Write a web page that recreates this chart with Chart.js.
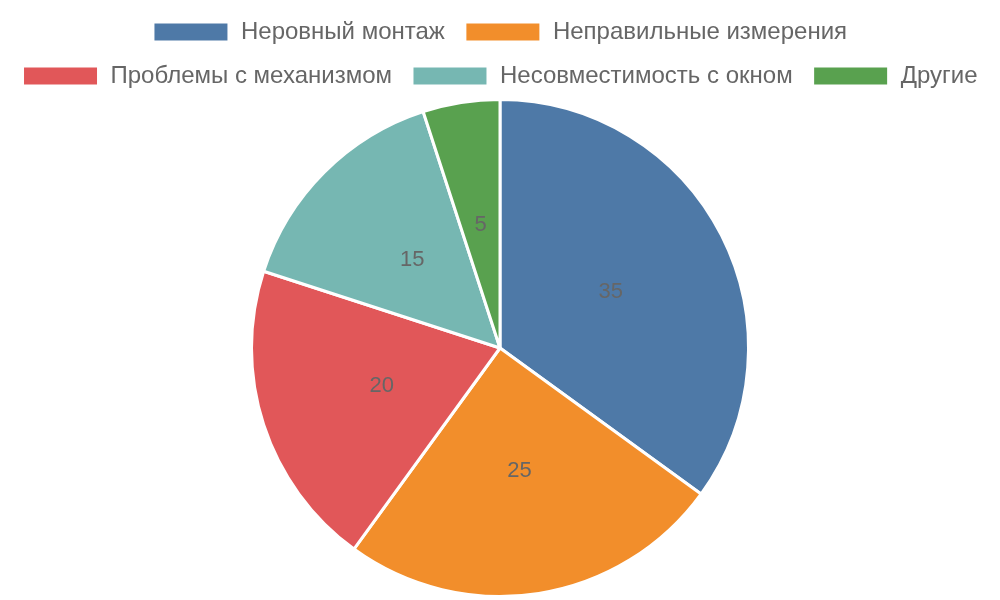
<!DOCTYPE html>
<html>
<head>
<meta charset="utf-8">
<script src="https://cdn.jsdelivr.net/npm/chart.js@4"></script>
<style>
  html, body { margin: 0; padding: 0; background: #fff; }
  #wrap { width: 1000px; height: 600px; }
</style>
</head>
<body>
<div id="wrap"><canvas id="pie"></canvas></div>
<script>
const categories = ["Неровный монтаж", "Неправильные измерения", "Проблемы с механизмом", "Несовместимость с окном", "Другие"];
const values = [35, 25, 20, 15, 5];
const colors = ["#4e79a7", "#f28e2b", "#e15759", "#76b7b2", "#59a14f"];

// draw the value in the middle of each slice
const sliceLabels = {
  id: "sliceLabels",
  afterDatasetsDraw(chart) {
    const ctx = chart.ctx;
    const meta = chart.getDatasetMeta(0);
    ctx.save();
    ctx.font = "22px 'Liberation Sans', Arial, sans-serif";
    ctx.fillStyle = "#666";
    ctx.textAlign = "center";
    ctx.textBaseline = "middle";
    meta.data.forEach((arc, i) => {
      const p = arc.tooltipPosition();
      ctx.fillText(values[i], p.x, p.y);
    });
    ctx.restore();
  }
};

new Chart(document.getElementById("pie"), {
  type: "pie",
  data: {
    labels: categories,
    datasets: [{
      data: values,
      backgroundColor: colors,
      borderColor: "#fff",
      borderWidth: 3
    }]
  },
  options: {
    responsive: true,
    maintainAspectRatio: false,
    animation: false,
    layout: { padding: { top: 0, bottom: 2 } },
    plugins: {
      legend: {
        position: "top",
        labels: {
          boxWidth: 76,
          boxHeight: 20,
          padding: 20,
          color: "#666",
          font: { size: 24, family: "'Liberation Sans', Arial, sans-serif" }
        }
      },
      tooltip: { enabled: false }
    }
  },
  plugins: [sliceLabels]
});
</script>
</body>
</html>
